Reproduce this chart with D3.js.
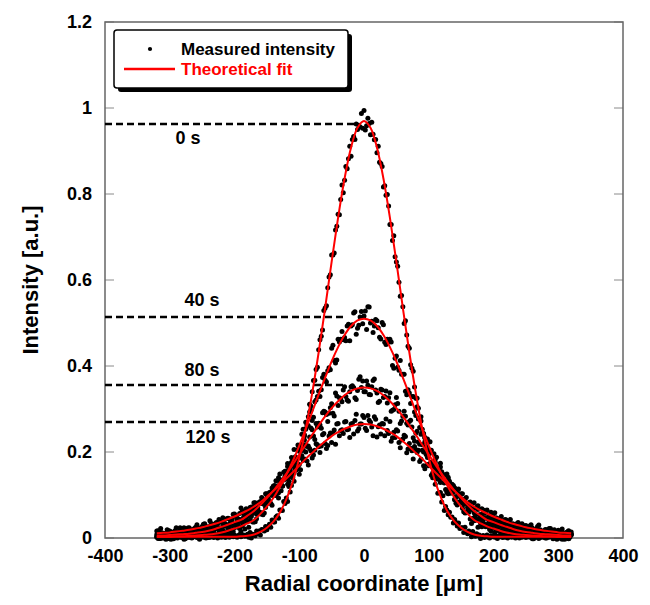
<!DOCTYPE html>
<html>
<head>
<meta charset="utf-8">
<script src="https://cdn.jsdelivr.net/npm/d3@7"></script>
<style>
  html, body { margin: 0; padding: 0; background: #ffffff; }
  svg { display: block; font-family: "Liberation Sans", Arial, sans-serif; }
</style>
</head>
<body>
<div id="chart"></div>
<script>
// sampling grids (radial coordinate, µm)
const radiusFine = d3.range(-320, 321, 2);    // 0 s profile
const radiusCoarse = d3.range(-320, 321, 4);  // 40, 80, 120 s profiles, first cut
const radiusShift = d3.range(-318, 319, 4);   // 40, 80, 120 s profiles, second cut
const radiusFit = d3.range(-320, 321, 10);    // fitted curves

const times = ["0 s", "40 s", "80 s", "120 s"];
const peakLevels = [0.963, 0.514, 0.356, 0.270];
const peakLineEnds = [-15, -30, -30, -100];

const xTicks = [-400, -300, -200, -100, 0, 100, 200, 300, 400];
const yTicks = [0, 0.2, 0.4, 0.6, 0.8, 1, 1.2];
const yTickLabels = ["0", "0.2", "0.4", "0.6", "0.8", "1", "1.2"];

// measured intensity, 0 s (every 2 µm)
const measured0 = [
  0.004,0.001,0.006,-0.001,0.003,0.002,0.007,0.000,0.004,0.005,
  -0.002,0.003,0.006,0.001,0.002,0.005,0.000,0.004,0.007,0.002,
  0.003,-0.001,0.005,0.004,0.001,0.006,0.002,0.000,0.005,0.003,
  0.007,0.001,0.004,-0.001,0.003,0.006,0.002,0.005,0.000,0.004,
  0.006,0.002,0.003,0.007,0.001,0.004,0.005,0.000,0.006,0.003,
  0.002,0.007,0.004,0.001,0.005,0.008,0.002,0.004,0.006,0.003,
  0.007,0.004,0.002,0.006,0.008,0.003,0.005,0.007,0.004,0.006,
  0.009,0.002,0.013,0.000,0.009,0.008,0.005,0.016,0.010,0.016,
  0.007,0.020,0.019,0.016,0.027,0.019,0.026,0.032,0.025,0.042,
  0.037,0.037,0.049,0.052,0.046,0.065,0.065,0.064,0.085,0.080,
  0.093,0.085,0.120,0.107,0.122,0.140,0.132,0.158,0.159,0.186,
  0.171,0.202,0.218,0.216,0.240,0.269,0.264,0.282,0.311,0.307,
  0.340,0.366,0.367,0.392,0.397,0.438,0.461,0.469,0.484,0.529,
  0.535,0.540,0.582,0.607,0.612,0.658,0.658,0.663,0.716,0.725,
  0.753,0.752,0.787,0.821,0.803,0.832,0.864,0.859,0.882,0.911,
  0.888,0.927,0.934,0.927,0.963,0.950,0.960,0.956,0.987,0.953,
  0.994,
  0.949,0.959,0.976,0.964,0.938,0.967,0.939,0.926,0.927,0.896,
  0.911,0.874,0.871,0.864,0.816,0.819,0.797,0.799,0.772,0.729,
  0.729,0.692,0.703,0.654,0.642,0.632,0.595,0.562,0.564,0.538,
  0.499,0.505,0.472,0.446,0.441,0.403,0.395,0.388,0.351,0.325,
  0.325,0.302,0.279,0.282,0.245,0.243,0.234,0.197,0.199,0.192,
  0.171,0.174,0.140,0.144,0.125,0.137,0.104,0.105,0.106,0.084,
  0.098,0.064,0.073,0.065,0.054,0.060,0.048,0.049,0.035,0.043,
  0.036,0.028,0.035,0.022,0.024,0.024,0.013,0.025,0.014,0.010,
  0.016,0.013,0.003,0.015,0.008,0.004,0.010,0.005,0.007,-0.001,
  0.003,0.006,0.001,0.004,0.007,0.002,0.000,0.005,0.003,0.006,
  0.002,0.004,-0.001,0.005,0.003,0.007,0.001,0.004,0.002,0.006,
  0.000,0.003,0.005,0.002,0.006,0.004,0.001,0.007,0.003,0.000,
  0.005,0.002,0.004,0.006,0.001,0.003,0.007,0.002,0.005,0.000,
  0.004,0.006,0.003,0.001,0.005,0.007,0.002,0.004,0.006,0.003,
  0.008,0.005,0.002,0.006,0.004,0.007,0.003,0.005,0.008,0.004,
  0.006,0.009,0.005,0.007,0.004,0.008,0.006,0.009,0.005,0.007
];

// measured intensity, 40 s
const measured40 = [
  0.002,-0.001,0.006,0.005,-0.002,0.009,0.003,0.001,0.008,0.003,
  0.005,-0.002,0.012,0.002,0.005,0.010,0.002,0.009,0.006,0.013,
  0.001,0.011,0.013,0.007,0.012,0.021,0.012,0.015,0.023,0.014,
  0.024,0.032,0.022,0.028,0.021,0.038,0.041,0.037,0.038,0.060,
  0.056,0.054,0.071,0.081,0.081,0.109,0.099,0.093,0.135,0.135,
  0.155,0.147,0.176,0.206,0.184,0.211,0.241,0.237,0.260,0.293,
  0.273,0.317,0.329,0.329,0.373,0.367,0.389,0.391,0.448,0.407,
  0.462,0.462,0.461,0.459,0.497,0.493,0.523,0.474,0.495,0.527,
  0.516,0.485,0.537,0.504,0.493,0.505,0.467,0.501,0.455,0.462,
  0.462,0.401,0.418,0.397,0.413,0.381,0.341,0.345,0.313,0.329,
  0.285,0.277,0.272,0.241,0.213,0.223,0.204,0.166,0.188,0.159,
  0.139,0.147,0.111,0.117,0.123,0.089,0.077,0.081,0.069,0.058,
  0.064,0.044,0.046,0.045,0.025,0.034,0.035,0.026,0.034,0.016,
  0.024,0.017,0.026,0.012,0.015,0.018,0.009,0.019,0.004,0.011,
  0.008,0.003,0.013,0.005,0.009,-0.002,0.010,0.007,0.002,0.010,
  0.000,0.004,0.007,-0.002,0.011,0.002,-0.001,0.006,0.005,-0.002,
  0.009
];
const measured40b = [
  -0.001,0.011,0.005,-0.003,0.009,0.003,-0.002,0.008,0.014,0.002,
  -0.003,0.007,0.011,0.001,0.006,0.014,-0.003,0.011,0.005,0.014,
  0.011,0.004,0.021,0.004,0.013,0.018,0.012,0.025,0.017,0.015,
  0.031,0.025,0.015,0.033,0.038,0.025,0.050,0.037,0.045,0.061,
  0.059,0.058,0.083,0.084,0.076,0.106,0.104,0.130,0.121,0.141,
  0.173,0.150,0.183,0.189,0.216,0.210,0.253,0.253,0.261,0.297,
  0.281,0.321,0.341,0.345,0.381,0.363,0.396,0.441,0.413,0.414,
  0.456,0.480,0.466,0.493,0.459,0.496,0.526,0.488,0.514,0.498,
  0.528,0.538,0.500,0.478,0.508,0.489,0.463,0.496,0.450,0.456,
  0.456,0.395,0.423,0.390,0.381,0.381,0.333,0.337,0.329,0.293,
  0.305,0.257,0.253,0.233,0.230,0.224,0.173,0.183,0.158,0.165,
  0.141,0.113,0.138,0.104,0.106,0.081,0.083,0.083,0.061,0.059,
  0.060,0.034,0.040,0.042,0.045,0.026,0.032,0.027,0.020,0.035,
  0.013,0.025,0.015,0.020,0.014,0.007,0.014,0.019,0.000,0.013,
  0.004,0.013,0.007,0.004,0.016,-0.002,0.007,-0.001,0.009,0.012,
  0.000,0.004,0.010,0.002,-0.003,0.005,0.007,-0.003,0.003,0.011
];

// measured intensity, 80 s
const measured80 = [
  0.008,0.012,0.003,0.006,0.000,0.010,0.012,0.007,0.004,0.017,
  0.009,0.004,0.012,0.013,0.008,0.018,0.011,0.006,0.019,0.016,
  0.020,0.014,0.022,0.030,0.018,0.024,0.033,0.027,0.032,0.041,
  0.029,0.043,0.043,0.037,0.055,0.050,0.056,0.057,0.076,0.064,
  0.083,0.085,0.087,0.090,0.107,0.110,0.133,0.105,0.125,0.153,
  0.153,0.142,0.187,0.176,0.181,0.202,0.191,0.228,0.213,0.235,
  0.252,0.229,0.258,0.263,0.291,0.293,0.271,0.303,0.290,0.337,
  0.308,0.324,0.344,0.329,0.318,0.352,0.350,0.322,0.369,0.350,
  0.340,0.365,0.334,0.352,0.370,0.337,0.318,0.344,0.329,0.314,
  0.338,0.297,0.310,0.313,0.266,0.283,0.283,0.263,0.274,0.233,
  0.244,0.223,0.241,0.200,0.203,0.206,0.177,0.196,0.151,0.162,
  0.149,0.129,0.149,0.121,0.125,0.090,0.109,0.098,0.085,0.091,
  0.071,0.072,0.070,0.053,0.066,0.050,0.041,0.047,0.043,0.029,
  0.043,0.035,0.029,0.035,0.026,0.028,0.018,0.030,0.017,0.019,
  0.022,0.011,0.018,0.012,0.019,0.004,0.013,0.014,0.005,0.010,
  0.016,0.006,0.006,0.013,0.001,0.008,0.013,0.003,0.006,-0.001,
  0.009
];
const measured80b = [
  0.014,0.006,0.000,0.011,0.009,-0.003,0.006,0.014,0.009,0.005,
  0.018,0.014,0.005,0.013,0.004,0.023,0.012,0.015,0.022,0.013,
  0.022,0.010,0.029,0.025,0.019,0.027,0.033,0.029,0.040,0.028,
  0.050,0.035,0.042,0.048,0.042,0.064,0.064,0.062,0.056,0.083,
  0.080,0.081,0.103,0.103,0.099,0.122,0.117,0.149,0.121,0.145,
  0.166,0.155,0.176,0.161,0.206,0.207,0.204,0.217,0.214,0.256,
  0.237,0.266,0.267,0.255,0.295,0.287,0.290,0.312,0.284,0.330,
  0.326,0.317,0.352,0.321,0.340,0.354,0.326,0.343,0.375,0.365,
  0.340,0.355,0.333,0.366,0.344,0.315,0.346,0.327,0.342,0.326,
  0.295,0.299,0.327,0.295,0.272,0.295,0.267,0.271,0.258,0.225,
  0.248,0.218,0.217,0.224,0.187,0.198,0.177,0.176,0.147,0.174,
  0.145,0.129,0.141,0.117,0.122,0.094,0.102,0.103,0.078,0.080,
  0.082,0.066,0.059,0.071,0.044,0.055,0.047,0.030,0.040,0.045,
  0.030,0.032,0.039,0.025,0.031,0.025,0.015,0.031,0.014,0.020,
  0.023,0.014,0.019,0.004,0.021,0.012,0.007,0.017,0.012,0.002,
  0.007,0.019,0.012,0.002,0.007,0.013,-0.003,0.008,0.014,0.002
];

// measured intensity, 120 s
const measured120 = [
  0.016,0.004,0.012,0.010,0.019,0.016,0.008,0.017,0.011,0.024,
  0.014,0.018,0.023,0.018,0.015,0.025,0.024,0.016,0.032,0.027,
  0.026,0.034,0.027,0.036,0.043,0.036,0.034,0.045,0.045,0.044,
  0.056,0.046,0.057,0.064,0.051,0.064,0.071,0.068,0.082,0.070,
  0.085,0.084,0.103,0.092,0.103,0.121,0.106,0.140,0.110,0.136,
  0.138,0.132,0.166,0.152,0.170,0.148,0.186,0.184,0.179,0.208,
  0.186,0.204,0.217,0.199,0.240,0.220,0.215,0.244,0.244,0.218,
  0.266,0.250,0.243,0.271,0.253,0.265,0.242,0.288,0.254,0.265,
  0.280,0.250,0.274,0.258,0.282,0.235,0.263,0.266,0.238,0.250,
  0.271,0.233,0.234,0.249,0.210,0.230,0.236,0.207,0.209,0.184,
  0.206,0.204,0.183,0.168,0.194,0.168,0.146,0.160,0.158,0.136,
  0.154,0.128,0.106,0.132,0.114,0.117,0.097,0.100,0.103,0.080,
  0.081,0.084,0.070,0.070,0.075,0.054,0.065,0.060,0.049,0.060,
  0.048,0.047,0.042,0.050,0.034,0.042,0.037,0.032,0.027,0.033,
  0.029,0.033,0.018,0.021,0.028,0.023,0.015,0.027,0.019,0.016,
  0.020,0.011,0.022,0.012,0.015,0.018,0.006,0.012,0.010,0.017,
  0.014
];
const measured120b = [
  0.017,0.022,0.010,0.005,0.017,0.014,0.009,0.024,0.012,0.019,
  0.024,0.009,0.024,0.019,0.022,0.031,0.016,0.027,0.033,0.024,
  0.040,0.025,0.033,0.033,0.041,0.047,0.031,0.046,0.042,0.055,
  0.051,0.044,0.070,0.058,0.068,0.058,0.072,0.082,0.071,0.081,
  0.094,0.078,0.094,0.106,0.116,0.100,0.121,0.123,0.121,0.155,
  0.125,0.159,0.149,0.167,0.165,0.159,0.181,0.200,0.170,0.203,
  0.193,0.219,0.212,0.214,0.243,0.208,0.237,0.222,0.251,0.265,
  0.238,0.252,0.270,0.252,0.234,0.266,0.273,0.249,0.265,0.285,
  0.255,0.285,0.269,0.238,0.276,0.259,0.242,0.265,0.277,0.243,
  0.225,0.246,0.252,0.222,0.228,0.239,0.198,0.220,0.203,0.213,
  0.199,0.178,0.204,0.161,0.171,0.173,0.151,0.169,0.143,0.129,
  0.147,0.129,0.103,0.121,0.120,0.096,0.114,0.091,0.088,0.094,
  0.081,0.068,0.082,0.071,0.054,0.068,0.058,0.065,0.049,0.051,
  0.059,0.038,0.046,0.039,0.043,0.031,0.043,0.033,0.027,0.036,
  0.018,0.029,0.029,0.022,0.031,0.016,0.021,0.030,0.015,0.010,
  0.019,0.022,0.014,0.019,0.004,0.013,0.021,0.006,0.014,0.007
];

// theoretical fit (every 10 µm)
const fit0 = [
  0.003,0.003,0.003,0.003,0.003,0.003,0.003,0.003,0.003,0.003,0.003,0.003,0.003,
  0.004,0.005,0.008,0.014,0.024,0.038,0.059,0.090,0.131,0.186,0.254,0.337,0.432,
  0.535,0.642,0.745,0.836,0.908,0.954,
  0.970,
  0.954,0.908,0.836,0.745,0.642,0.535,0.432,0.337,0.254,0.186,0.131,0.090,0.059,
  0.038,0.024,0.014,0.008,0.005,0.004,
  0.003,0.003,0.003,0.003,0.003,0.003,0.003,0.003,0.003,0.003,0.003,0.003,0.003
];
const fit40 = [
  0.003,0.003,0.003,0.004,0.004,0.005,0.006,0.007,0.008,0.010,0.013,0.017,0.022,
  0.027,0.034,0.042,0.056,0.073,0.093,0.118,0.147,0.179,0.215,0.253,0.293,0.334,
  0.373,0.411,0.444,0.472,0.493,0.506,
  0.510,
  0.506,0.493,0.472,0.444,0.411,0.373,0.334,0.293,0.253,0.215,0.179,0.147,0.118,
  0.093,0.073,0.056,0.042,0.034,0.027,0.022,0.017,0.013,0.010,0.008,0.007,0.006,
  0.005,0.004,0.004,0.003,0.003,0.003
];
const fit80 = [
  0.006,0.006,0.007,0.008,0.009,0.010,0.012,0.014,0.017,0.021,0.026,0.031,0.037,
  0.042,0.052,0.063,0.077,0.093,0.110,0.129,0.149,0.171,0.194,0.217,0.240,0.262,
  0.283,0.302,0.318,0.332,0.342,0.348,
  0.350,
  0.348,0.342,0.332,0.318,0.302,0.283,0.262,0.240,0.217,0.194,0.171,0.149,0.129,
  0.110,0.093,0.077,0.063,0.052,0.042,0.037,0.031,0.026,0.021,0.017,0.014,0.012,
  0.010,0.009,0.008,0.007,0.006,0.006
];
const fit120 = [
  0.011,0.012,0.013,0.015,0.017,0.019,0.022,0.025,0.029,0.033,0.038,0.044,0.050,
  0.057,0.064,0.073,0.083,0.096,0.109,0.123,0.138,0.153,0.168,0.184,0.198,0.212,
  0.225,0.237,0.246,0.254,0.260,0.264,
  0.265,
  0.264,0.260,0.254,0.246,0.237,0.225,0.212,0.198,0.184,0.168,0.153,0.138,0.123,
  0.109,0.096,0.083,0.073,0.064,0.057,0.050,0.044,0.038,0.033,0.029,0.025,0.022,
  0.019,0.017,0.015,0.013,0.012,0.011
];

const width = 650;
const height = 605;
const plot = { left: 105, right: 623, top: 22, bottom: 538 };
const ink = "#000000";
const fitRed = "#ff0000";
const frameGrey = "#666666";

// label placement for the peak markers: [x center, offset from level]
const timeLabelPos = [[188, 20], [202, -11], [202, -9], [208, 21]];

const svg = d3.select("#chart")
  .append("svg")
  .attr("width", width)
  .attr("height", height)
  .attr("viewBox", `0 0 ${width} ${height}`);

svg.append("rect")
  .attr("width", width)
  .attr("height", height)
  .attr("fill", "#ffffff");

const x = d3.scaleLinear().domain([-400, 400]).range([plot.left, plot.right]);
const y = d3.scaleLinear().domain([0, 1.2]).range([plot.bottom, plot.top]);

// inner ticks on left and right
yTicks.forEach((v) => {
  [[plot.left, plot.left + 9], [plot.right - 9, plot.right]].forEach(([a, b]) => {
    svg.append("line")
      .attr("x1", a).attr("x2", b)
      .attr("y1", y(v)).attr("y2", y(v))
      .attr("stroke", "#8a8a8a")
      .attr("stroke-width", 1);
  });
});

// frame
svg.append("rect")
  .attr("x", plot.left)
  .attr("y", plot.top)
  .attr("width", plot.right - plot.left)
  .attr("height", plot.bottom - plot.top)
  .attr("fill", "none")
  .attr("stroke", frameGrey)
  .attr("stroke-width", 1.5);

// tick labels via d3 axes
const yAxis = svg.append("g")
  .attr("transform", `translate(${plot.left},0)`)
  .call(d3.axisLeft(y).tickValues(yTicks).tickSize(0).tickPadding(13)
    .tickFormat((d, i) => yTickLabels[i]));
const xAxis = svg.append("g")
  .attr("transform", `translate(0,${plot.bottom})`)
  .call(d3.axisBottom(x).tickValues(xTicks).tickSize(0).tickPadding(11)
    .tickFormat((d) => String(d)));

[yAxis, xAxis].forEach((g) => {
  g.select(".domain").remove();
  g.selectAll("text")
    .attr("fill", ink)
    .attr("font-family", "'Liberation Sans', Arial, sans-serif")
    .attr("font-size", 18)
    .attr("font-weight", 700);
});

// dashed peak markers
peakLevels.forEach((level, i) => {
  svg.append("line")
    .attr("x1", plot.left)
    .attr("x2", x(peakLineEnds[i]))
    .attr("y1", y(level))
    .attr("y2", y(level))
    .attr("stroke", ink)
    .attr("stroke-width", 2.5)
    .attr("stroke-dasharray", "7,4");

  svg.append("text")
    .attr("x", timeLabelPos[i][0])
    .attr("y", y(level) + timeLabelPos[i][1])
    .attr("text-anchor", "middle")
    .attr("fill", ink)
    .attr("font-size", 18)
    .attr("font-weight", 700)
    .text(times[i]);
});

// measured points
const measuredSets = [
  [radiusFine, measured0],
  [radiusCoarse, measured40],
  [radiusShift, measured40b],
  [radiusCoarse, measured80],
  [radiusShift, measured80b],
  [radiusCoarse, measured120],
  [radiusShift, measured120b]
];

measuredSets.forEach(([grid, values]) => {
  svg.append("g")
    .selectAll("circle")
    .data(values)
    .join("circle")
    .attr("cx", (d, i) => x(grid[i]))
    .attr("cy", (d) => y(d))
    .attr("r", 2.5)
    .attr("fill", ink);
});

// theoretical fits
const line = d3.line()
  .x((d, i) => x(radiusFit[i]))
  .y((d) => y(d))
  .curve(d3.curveCatmullRom.alpha(0.5));

[fit0, fit40, fit80, fit120].forEach((values) => {
  svg.append("path")
    .attr("d", line(values))
    .attr("fill", "none")
    .attr("stroke", fitRed)
    .attr("stroke-width", 2);
});

// legend
const legend = svg.append("g");
legend.append("rect")
  .attr("x", 118).attr("y", 34)
  .attr("width", 234).attr("height", 58)
  .attr("rx", 3)
  .attr("fill", ink);
legend.append("rect")
  .attr("x", 114).attr("y", 30)
  .attr("width", 234).attr("height", 58)
  .attr("rx", 3)
  .attr("fill", "#ffffff")
  .attr("stroke", ink)
  .attr("stroke-width", 1.5);
legend.append("circle")
  .attr("cx", 150).attr("cy", 49)
  .attr("r", 2.1)
  .attr("fill", ink);
legend.append("text")
  .attr("x", 181).attr("y", 55)
  .attr("fill", ink)
  .attr("font-size", 17)
  .attr("font-weight", 700)
  .text("Measured intensity");
legend.append("line")
  .attr("x1", 124).attr("x2", 175)
  .attr("y1", 69).attr("y2", 69)
  .attr("stroke", fitRed)
  .attr("stroke-width", 2.5);
legend.append("text")
  .attr("x", 181).attr("y", 75)
  .attr("fill", fitRed)
  .attr("font-size", 17)
  .attr("font-weight", 700)
  .text("Theoretical fit");

// axis titles
svg.append("text")
  .attr("x", (plot.left + plot.right) / 2)
  .attr("y", 591)
  .attr("text-anchor", "middle")
  .attr("fill", ink)
  .attr("font-size", 22)
  .attr("font-weight", 700)
  .text("Radial coordinate [μm]");

svg.append("text")
  .attr("transform", `translate(38,${(plot.top + plot.bottom) / 2}) rotate(-90)`)
  .attr("text-anchor", "middle")
  .attr("fill", ink)
  .attr("font-size", 22)
  .attr("font-weight", 700)
  .text("Intensity [a.u.]");
</script>
</body>
</html>
